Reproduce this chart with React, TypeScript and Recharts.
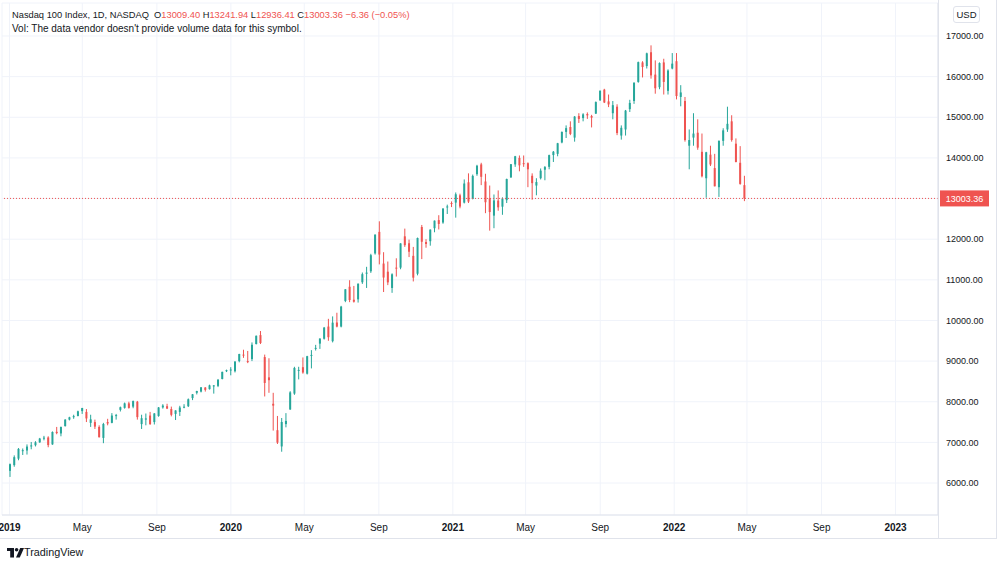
import React from 'react';
import { ComposedChart, Bar, XAxis, YAxis, CartesianGrid, ReferenceLine } from 'recharts';

// weekly candles [open, high, low, close], first week starts 2018-12-31
const firstWeek = '2018-12-31';

const w2019 = [
  [6300, 6480, 6150, 6463], [6440, 6680, 6400, 6636], [6600, 6860, 6560, 6840], [6800, 6850, 6690, 6808],
  [6800, 6950, 6700, 6897], [6900, 7010, 6830, 6925], [6930, 7030, 6900, 7002], [7000, 7110, 6990, 7094],
  [7100, 7160, 7050, 7116], [7120, 7150, 6880, 6934], [6950, 7270, 6940, 7256], [7260, 7380, 7200, 7229],
  [7220, 7390, 7150, 7378], [7400, 7570, 7390, 7560], [7560, 7630, 7540, 7617], [7620, 7680, 7580, 7645],
  [7650, 7780, 7640, 7765], [7770, 7850, 7700, 7845], [7750, 7820, 7500, 7589], [7480, 7680, 7380, 7567],
  [7500, 7560, 7330, 7388], [7380, 7420, 7120, 7127], [7110, 7480, 6980, 7452], [7500, 7580, 7420, 7465],
  [7480, 7720, 7470, 7660], [7660, 7700, 7560, 7671], [7800, 7880, 7760, 7865], [7850, 7980, 7830, 7960],
  [7960, 8000, 7830, 7848], [7880, 8030, 7840, 8016], [8000, 8020, 7560, 7622], [7450, 7680, 7330, 7595],
  [7560, 7710, 7420, 7590], [7660, 7750, 7430, 7450], [7500, 7720, 7440, 7712], [7650, 7870, 7630, 7859],
  [7860, 7940, 7830, 7906], [7890, 7950, 7820, 7832], [7820, 7880, 7640, 7678], [7700, 7790, 7550, 7786],
  [7750, 7900, 7650, 7858], [7860, 7940, 7840, 7878], [7890, 8080, 7870, 8061], [8090, 8190, 8040, 8183],
  [8220, 8270, 8180, 8264], [8250, 8360, 8230, 8355], [8350, 8360, 8250, 8292], [8310, 8420, 8300, 8403],
  [8390, 8410, 8200, 8402], [8390, 8560, 8360, 8540], [8560, 8740, 8550, 8735], [8750, 8790, 8730, 8778],
];

const w2020 = [
  [8780, 8850, 8650, 8793], [8750, 9000, 8720, 8987], [9000, 9180, 8970, 9174], [9160, 9280, 9080, 9144],
  [9000, 9250, 8950, 8992], [9050, 9460, 9000, 9402], [9420, 9630, 9410, 9623], [9640, 9740, 9420, 9446],
  [9100, 9160, 8130, 8462], [8600, 9070, 8220, 8530], [7950, 8220, 7290, 7905], [7300, 7650, 6960, 6994],
  [6900, 7600, 6770, 7502], [7450, 7720, 7370, 7528], [7810, 8260, 7800, 8230], [8200, 8860, 8170, 8832],
  [8770, 8860, 8550, 8783], [8850, 9090, 8690, 8719], [8690, 9130, 8670, 9121], [9140, 9270, 8820, 9152],
  [9300, 9400, 9260, 9325], [9430, 9560, 9300, 9555], [9550, 9840, 9530, 9824], [9850, 10040, 9500, 9588],
  [9490, 10100, 9460, 9946], [9950, 10190, 9830, 9849], [9850, 10360, 9830, 10341], [10480, 10770, 10450, 10767],
  [10830, 10990, 10450, 10503], [10510, 10850, 10440, 10461], [10520, 10910, 10440, 10905], [10940, 11180, 10900, 11139],
  [11150, 11320, 10800, 11178], [11210, 11640, 11170, 11606], [11650, 12120, 11620, 12111], [12180, 12440, 11380, 11622],
  [11400, 11680, 10700, 11056], [11200, 11450, 10870, 10937], [10800, 11160, 10680, 11136], [11300, 11530, 11080, 11284],
  [11300, 11900, 11260, 11896], [12070, 12260, 11810, 11853], [11900, 11990, 11560, 11691], [11590, 11810, 10960, 11053],
  [11150, 12040, 11110, 12029], [12300, 12350, 11510, 11937], [11930, 12000, 11790, 11882], [11950, 12240, 11840, 12236],
  [12270, 12460, 12170, 12456], [12470, 12590, 12240, 12375], [12410, 12760, 12380, 12755], [12790, 12850, 12620, 12805],
  [12890, 12930, 12790, 12888],
];

const w2021 = [
  [12900, 13150, 12530, 13105], [13080, 13120, 12760, 12803], [12900, 13470, 12880, 13370], [13400, 13620, 12890, 12925],
  [12990, 13590, 12980, 13557], [13600, 13830, 13560, 13807], [13840, 13880, 13330, 13535], [13420, 13610, 12640, 12909],
  [13000, 13320, 12210, 12668], [12580, 13100, 12270, 12954], [12950, 13200, 12700, 12784], [12800, 13030, 12600, 12998],
  [12960, 13490, 12890, 13480], [13520, 13850, 13510, 13845], [13840, 14050, 13780, 14041], [14000, 14060, 13670, 13817],
  [13870, 14060, 13780, 13860], [13870, 13890, 13280, 13720], [13560, 13620, 12970, 13379], [13320, 13500, 13080, 13406],
  [13500, 13740, 13470, 13687], [13710, 13800, 13450, 13774], [13780, 14080, 13720, 14069], [14070, 14170, 13900, 14152],
  [14100, 14370, 14040, 14361], [14380, 14650, 14360, 14640], [14640, 14800, 14490, 14733], [14760, 14900, 14560, 14590],
  [14500, 15030, 14400, 15016], [15030, 15100, 14860, 14959], [14980, 15100, 14900, 15072], [15080, 15120, 14960, 15047],
  [15030, 15060, 14750, 14990], [15090, 15390, 15080, 15374], [15420, 15660, 15400, 15653], [15680, 15700, 15350, 15364],
  [15390, 15560, 15250, 15316], [15100, 15400, 14950, 15298], [15260, 15320, 14560, 14612], [14550, 14800, 14450, 14741],
  [14700, 15180, 14550, 15164], [15200, 15430, 15130, 15353], [15400, 15860, 15330, 15850], [15870, 16370, 15850, 16357],
  [16350, 16380, 15980, 16236], [16260, 16590, 16200, 16574], [16600, 16770, 15950, 16030], [16050, 16400, 15580, 15714],
  [15740, 16350, 15690, 16334], [16350, 16440, 15560, 15870], [15650, 16180, 15560, 16150], [16200, 16580, 16180, 16320],
];

const w2022 = [
  [16380, 16580, 15440, 15523], [15500, 15790, 15270, 15611], [15400, 15500, 14400, 14439], [14300, 14700, 13720, 14440],
  [14500, 15100, 14300, 14599], [14620, 14950, 14200, 14253], [14150, 14600, 13520, 13548], [13500, 14150, 13020, 14139],
  [14080, 14300, 13800, 13838], [13750, 14100, 13300, 13301], [13280, 14430, 13040, 14420], [14420, 14730, 14300, 14678],
  [14700, 15260, 14640, 14839], [14900, 15050, 14400, 14440], [14350, 14480, 13890, 13900], [13880, 14290, 13340, 13360],
  [13330, 13560, 12936.41, 13003.36],
];

const priceTicks = [6000, 7000, 8000, 9000, 10000, 11000, 12000, 13000, 14000, 15000, 16000, 17000];
const timeTicks = [
  ['2019-01-01', '2019'], ['2019-05-01', 'May'], ['2019-09-01', 'Sep'],
  ['2020-01-01', '2020'], ['2020-05-01', 'May'], ['2020-09-01', 'Sep'],
  ['2021-01-01', '2021'], ['2021-05-01', 'May'], ['2021-09-01', 'Sep'],
  ['2022-01-01', '2022'], ['2022-05-01', 'May'], ['2022-09-01', 'Sep'],
  ['2023-01-01', '2023'],
];
const lastPrice = 13003.36;

const UP = '#26a69a';
const DOWN = '#ef5350';
const TEXT = '#131722';
const LINE = '#e0e3eb';
const FONT = '"Liberation Sans", Arial, sans-serif';

const DAY = 86400000;
const origin = Date.UTC(2019, 0, 1);
const dayOf = (s: string) => (Date.parse(s + 'T00:00:00Z') - origin) / DAY;

const start = dayOf(firstWeek);
const candles = [...w2019, ...w2020, ...w2021, ...w2022].map(([o, h, l, c], i) => ({
  t: start + i * 7 + 2,
  o, h, l, c,
  range: [l, h],
}));

const tickDays = timeTicks.map(([d]) => dayOf(d));
const tickLabel: Record<number, string> = {};
timeTicks.forEach(([d, label]) => { tickLabel[dayOf(d)] = label; });

function Candle(props: any) {
  const { x, y, width, height, payload } = props;
  if (!payload) return null;
  const { o, h, l, c } = payload;
  const top = Math.min(y, y + height);
  const hh = Math.abs(height);
  const color = c >= o ? UP : DOWN;
  const ratio = h === l ? 0 : hh / (h - l);
  const bodyTop = top + (h - Math.max(o, c)) * ratio;
  const bodyH = Math.max(1, Math.abs(o - c) * ratio);
  const cx = x + width / 2;
  return (
    <g>
      <line x1={cx} x2={cx} y1={top} y2={top + hh} stroke={color} strokeWidth={1} />
      <rect x={x} y={bodyTop} width={width} height={bodyH} fill={color} />
    </g>
  );
}

function TimeTick(props: any) {
  const { x, y, payload } = props;
  const label = tickLabel[payload.value];
  const isYear = /^\d{4}$/.test(label);
  return (
    <text x={x} y={y + 8} textAnchor="middle" fontSize={10} fontFamily={FONT}
      fontWeight={isYear ? 700 : 400} fill={TEXT}>
      {label}
    </text>
  );
}

function PriceTick(props: any) {
  const { x, y, payload } = props;
  // the last-price label covers this level
  if (Math.abs(payload.value - lastPrice) < 200) return null;
  return (
    <text x={x} y={y + 3.2} textAnchor="start" fontSize={9} fontFamily={FONT} fill={TEXT}>
      {payload.value.toFixed(2)}
    </text>
  );
}

function PriceLabel(props: any) {
  const { viewBox } = props;
  const lx = viewBox.x + viewBox.width + 2;
  return (
    <g>
      <rect x={lx} y={viewBox.y - 8} width={49} height={16} fill={DOWN} />
      <text x={lx + 24.5} y={viewBox.y + 3.2} textAnchor="middle" fontSize={9} fontFamily={FONT} fill="#fff">
        {lastPrice.toFixed(2)}
      </text>
    </g>
  );
}

export default function App() {
  return (
    <div style={{ position: 'absolute', left: 0, top: 0, width: 1000, height: 567, background: '#fff', overflow: 'hidden', fontFamily: FONT }}>
      <ComposedChart width={1000} height={539} data={candles} margin={{ top: 3, right: 4, bottom: 0, left: 2 }}>
        <CartesianGrid stroke="#f0f3fa" />
        <XAxis dataKey="t" type="number" domain={[-12.4, 1531]} allowDataOverflow ticks={tickDays} interval={0}
          tick={<TimeTick />} tickLine={false} axisLine={{ stroke: LINE }} height={24} />
        <YAxis orientation="right" type="number" domain={[5213, 17812]} allowDataOverflow ticks={priceTicks}
          tick={<PriceTick />} tickLine={false} axisLine={{ stroke: LINE }} width={58} />
        <ReferenceLine y={lastPrice} stroke={DOWN} strokeDasharray="1 2" label={<PriceLabel />} />
        <Bar dataKey="range" barSize={2} shape={(p: any) => <Candle {...p} />} isAnimationActive={false} />
      </ComposedChart>

      {/* frame lines */}
      <div style={{ position: 'absolute', left: 938, top: 0, width: 1, height: 539, background: LINE }} />
      <div style={{ position: 'absolute', left: 996, top: 0, width: 1, height: 539, background: LINE }} />
      <div style={{ position: 'absolute', left: 0, top: 538, width: 997, height: 1, background: LINE }} />

      {/* legend */}
      <div style={{ position: 'absolute', left: 12, top: 8, fontSize: 9.3, color: TEXT, whiteSpace: 'pre', lineHeight: '14px' }}>
        <span>Nasdaq 100 Index, 1D, NASDAQ </span>
        <span> O</span><span style={{ color: DOWN }}>13009.40</span>
        <span> H</span><span style={{ color: DOWN }}>13241.94</span>
        <span> L</span><span style={{ color: DOWN }}>12936.41</span>
        <span> C</span><span style={{ color: DOWN }}>13003.36 −6.36 (−0.05%)</span>
      </div>
      <div style={{ position: 'absolute', left: 12, top: 22, fontSize: 10, color: TEXT, whiteSpace: 'pre', lineHeight: '14px' }}>
        Vol: The data vendor doesn't provide volume data for this symbol.
      </div>

      {/* currency */}
      <div style={{ position: 'absolute', left: 953, top: 6, width: 25, height: 15, border: '1px solid ' + LINE, borderRadius: 3,
        fontSize: 9.5, color: TEXT, textAlign: 'center', lineHeight: '15px' }}>USD</div>

      {/* branding */}
      <svg style={{ position: 'absolute', left: 7, top: 548 }} width={18} height={10}>
        <rect x={0} y={0} width={7} height={3} fill={TEXT} />
        <rect x={3.2} y={0} width={3.8} height={9.5} fill={TEXT} />
        <circle cx={9.6} cy={1.8} r={1.8} fill={TEXT} />
        <polygon points="9,9.5 13.2,0 17,0 12.8,9.5" fill={TEXT} />
      </svg>
      <div style={{ position: 'absolute', left: 24, top: 545, fontSize: 10.8, color: TEXT, lineHeight: '14px' }}>TradingView</div>
    </div>
  );
}
